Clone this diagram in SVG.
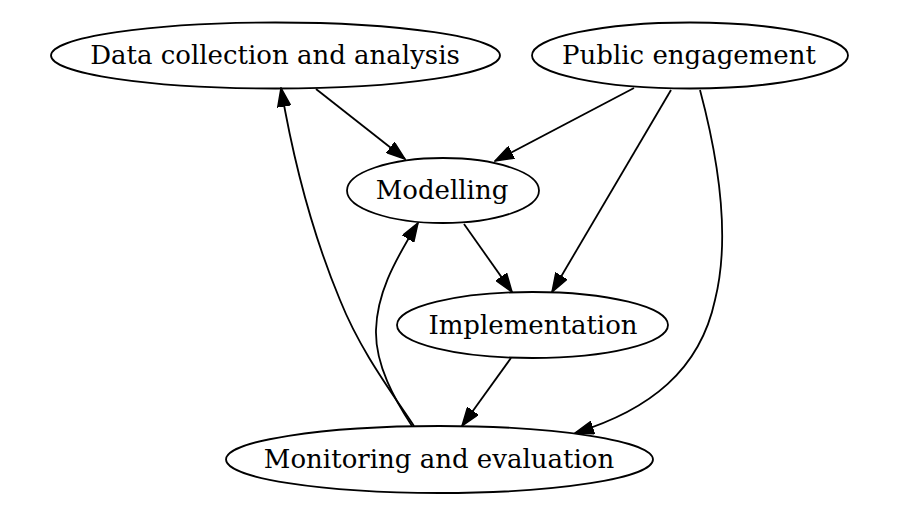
<svg xmlns="http://www.w3.org/2000/svg" width="898" height="514" viewBox="0 0 898 514">
<style>
.node ellipse{fill:none;stroke:#000;stroke-width:1.8}
.node text{font-family:"DejaVu Serif",serif;font-size:26px;text-anchor:middle;fill:#000}
.edges path{fill:none;stroke:#000;stroke-width:1.8}
</style>
<defs>
<marker id="arr" markerUnits="userSpaceOnUse" markerWidth="20" markerHeight="14" viewBox="0 -7 19 14" refX="18.3" refY="0" orient="auto">
<path d="M0,-6.4 L18.3,0 L0,6.4 Z" fill="#000" stroke="#000" stroke-width="1.5"/>
</marker>
</defs>
<rect width="898" height="514" fill="#fff"/>
<g id="edges" class="edges">
<path marker-end="url(#arr)" d="M316,89 L405,159"/>
<path marker-end="url(#arr)" d="M634,88 L495,161"/>
<path marker-end="url(#arr)" d="M671,90 L552,292"/>
<path marker-end="url(#arr)" d="M700,90 C720,165 730,240 715,300 C700,370 650,410 575,433"/>
<path marker-end="url(#arr)" d="M464,224 L512,292"/>
<path marker-end="url(#arr)" d="M511,358 L462,426"/>
<path marker-end="url(#arr)" d="M414,426 C390,390 360,350 340,300 C315,240 295,170 281,88"/>
<path marker-end="url(#arr)" d="M412,426 C395,400 375,365 376,330 C377,295 392,265 418,223"/>
</g>
<g id="data" class="node"><ellipse cx="275.5" cy="55.5" rx="224.5" ry="33"/><text x="275" y="64">Data collection and analysis</text></g>
<g id="public" class="node"><ellipse cx="690" cy="55.5" rx="158" ry="33"/><text x="689" y="64">Public engagement</text></g>
<g id="modelling" class="node"><ellipse cx="443" cy="190.5" rx="96" ry="32.5"/><text x="442" y="199">Modelling</text></g>
<g id="implementation" class="node"><ellipse cx="532.5" cy="325" rx="135.5" ry="33"/><text x="533" y="334">Implementation</text></g>
<g id="monitoring" class="node"><ellipse cx="439.5" cy="459.5" rx="213.5" ry="33.5"/><text x="439" y="468">Monitoring and evaluation</text></g>
</svg>
